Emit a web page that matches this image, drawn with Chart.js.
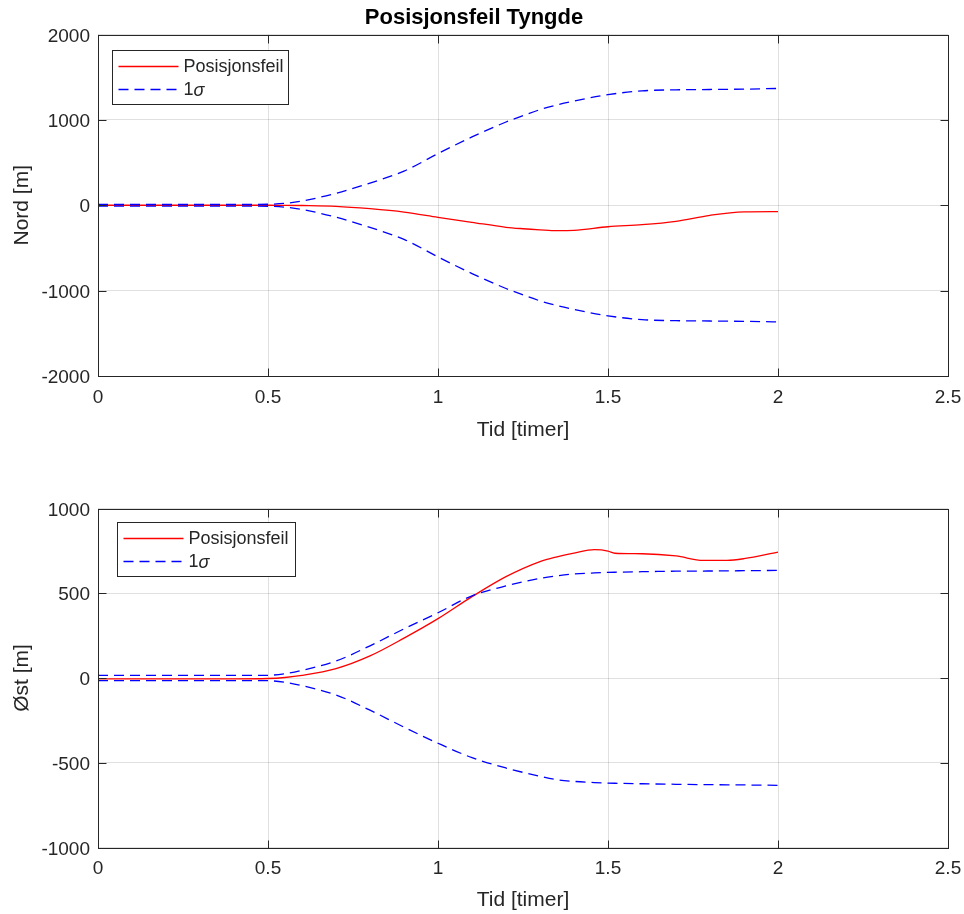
<!DOCTYPE html>
<html>
<head>
<meta charset="utf-8">
<script src="https://cdn.jsdelivr.net/npm/chart.js@4.4.1/dist/chart.umd.min.js"></script>
<style>
  html, body { margin: 0; padding: 0; background: #fff; }
  #wrap { position: relative; width: 964px; height: 914px; }
  .panel { position: absolute; left: 0; width: 964px; }
  #top { top: 0; height: 440px; }
  #bot { top: 470px; height: 444px; }
</style>
</head>
<body>
<div id="wrap">
  <div class="panel" id="top"><canvas id="nordChart"></canvas></div>
  <div class="panel" id="bot"><canvas id="ostChart"></canvas></div>
</div>
<script>
// tick labels
const xTicks = [0, 0.5, 1, 1.5, 2, 2.5];
const nordTicks = [-2000, -1000, 0, 1000, 2000];
const ostTicks = [-1000, -500, 0, 500, 1000];

// Nord (timer / meter)
const tNord = [0, 0.1, 0.2, 0.3, 0.4, 0.5, 0.55, 0.6, 0.7, 0.8, 0.9, 1.0, 1.1, 1.2, 1.25, 1.3, 1.35, 1.4, 1.5, 1.6, 1.7, 1.8, 1.9, 2.0];
const nordErr = [0, 0, 0, 0, 0, 0, -1, -3, -12, -40, -80, -141, -200, -258, -275, -288, -298, -295, -252, -228, -188, -118, -78, -75];
const nordSigmaUp = [10, 10, 10, 10, 10, 12, 22, 50, 140, 260, 400, 605, 800, 975, 1050, 1120, 1175, 1220, 1295, 1340, 1352, 1356, 1360, 1368];
const nordSigmaDown = [-10, -10, -10, -10, -10, -12, -22, -50, -140, -260, -400, -605, -800, -975, -1050, -1120, -1175, -1220, -1295, -1340, -1352, -1356, -1360, -1366];

// Øst
const tOst = [0, 0.1, 0.2, 0.3, 0.4, 0.5, 0.55, 0.6, 0.7, 0.8, 0.9, 1.0, 1.1, 1.2, 1.3, 1.35, 1.4, 1.46, 1.5, 1.52, 1.6, 1.7, 1.78, 1.85, 1.9, 2.0];
const ostErr = [-5, -5, -5, -5, -5, -3, 3, 15, 55, 130, 235, 350, 480, 598, 687, 715, 737, 757, 749, 736, 733, 720, 694, 694, 704, 743];
const ostSigmaUp = [15, 15, 15, 15, 15, 16, 25, 45, 100, 190, 290, 385, 485, 543, 588, 603, 614, 620, 623, 624, 627, 630, 631, 632, 633, 635];
const ostSigmaDown = [-15, -15, -15, -15, -15, -16, -25, -45, -100, -190, -290, -385, -470, -531, -580, -600, -610, -617, -620, -621, -624, -627, -629, -630, -631, -633];

const FONT = "'Liberation Sans', Arial, Helvetica, sans-serif";
const AX = '#262626';
Chart.defaults.font.family = FONT;
Chart.defaults.color = AX;

function pts(t, v) {
  return t.map((x, i) => ({ x: x, y: v[i] }));
}

// box, inward ticks and legend like the original figure
const matlabBox = {
  id: 'matlabBox',
  afterDatasetsDraw(chart, args, opts) {
    const ctx = chart.ctx;
    const a = chart.chartArea;
    const sx = chart.scales.x, sy = chart.scales.y;
    const L = Math.round(a.left) + 0.5, R = Math.round(a.right) + 0.5;
    const T = Math.round(a.top) + 0.5, B = Math.round(a.bottom) + 0.5;
    ctx.save();
    ctx.strokeStyle = AX;
    ctx.lineWidth = 1;
    ctx.setLineDash([]);
    ctx.beginPath();
    sx.ticks.forEach(t => {
      const p = Math.round(sx.getPixelForValue(t.value)) + 0.5;
      ctx.moveTo(p, B); ctx.lineTo(p, B - 8);
      ctx.moveTo(p, T); ctx.lineTo(p, T + 8);
    });
    sy.ticks.forEach(t => {
      const p = Math.round(sy.getPixelForValue(t.value)) + 0.5;
      ctx.moveTo(L, p); ctx.lineTo(L + 8, p);
      ctx.moveTo(R, p); ctx.lineTo(R - 8, p);
    });
    ctx.stroke();
    ctx.strokeRect(L, T, R - L, B - T);

    // legend
    const lg = opts.legend;
    const x0 = Math.round(a.left + lg.dx) + 0.5;
    const y0 = Math.round(a.top + lg.dy) + 0.5;
    ctx.fillStyle = '#fff';
    ctx.fillRect(x0, y0, lg.w, lg.h);
    ctx.strokeStyle = AX;
    ctx.strokeRect(x0, y0, lg.w, lg.h);
    const items = chart.data.datasets.filter(d => d.label);
    items.forEach((d, i) => {
      const y = y0 + 16 + i * 23;
      ctx.strokeStyle = d.borderColor;
      ctx.lineWidth = d.borderWidth;
      ctx.setLineDash(d.borderDash || []);
      ctx.beginPath();
      ctx.moveTo(x0 + 6, y);
      ctx.lineTo(x0 + 66, y);
      ctx.stroke();
      ctx.setLineDash([]);
      ctx.fillStyle = AX;
      ctx.textBaseline = 'middle';
      ctx.textAlign = 'left';
      let tx = x0 + 71;
      if (d.label.includes('σ')) {
        const parts = d.label.split('σ');
        ctx.font = '18px ' + FONT;
        ctx.fillText(parts[0], tx, y + 1);
        tx += ctx.measureText(parts[0]).width;
        ctx.font = 'italic 18px ' + FONT;
        ctx.fillText('σ', tx, y + 1);
      } else {
        ctx.font = '18px ' + FONT;
        ctx.fillText(d.label, tx, y + 1);
      }
    });
    ctx.restore();
  }
};

function makeChart(id, cfg) {
  const datasets = [
    {
      label: 'Posisjonsfeil',
      data: pts(cfg.t, cfg.err),
      borderColor: '#ff0000',
      borderWidth: 1.3,
      order: 2
    },
    {
      label: '1σ',
      data: pts(cfg.t, cfg.up),
      borderColor: '#0000ff',
      borderWidth: 1.3,
      borderDash: [10, 6],
      order: 1
    },
    {
      label: '',
      data: pts(cfg.t, cfg.down),
      borderColor: '#0000ff',
      borderWidth: 1.3,
      borderDash: [10, 6],
      order: 1
    }
  ];
  datasets.forEach(d => {
    d.pointRadius = 0;
    d.fill = false;
    d.cubicInterpolationMode = 'monotone';
  });

  return new Chart(document.getElementById(id), {
    type: 'line',
    data: { datasets: datasets },
    plugins: [matlabBox],
    options: {
      responsive: true,
      maintainAspectRatio: false,
      animation: false,
      layout: { padding: { top: cfg.padTop, right: 16, left: 0, bottom: 0 } },
      plugins: {
        legend: { display: false },
        tooltip: { enabled: false },
        title: {
          display: !!cfg.title,
          text: cfg.title,
          color: '#000',
          font: { size: 22, weight: 'bold', lineHeight: 1.2 },
          padding: { top: 5, bottom: 3.1 }
        },
        matlabBox: { legend: cfg.legend }
      },
      scales: {
        x: {
          type: 'linear',
          min: 0,
          max: 2.5,
          afterBuildTicks: s => { s.ticks = xTicks.map(v => ({ value: v })); },
          afterFit: s => { s.height = cfg.xHeight; s.paddingLeft = 0; s.paddingRight = 0; },
          ticks: {
            callback: v => String(v),
            color: AX,
            font: { size: 19 },
            padding: 10,
            maxRotation: 0,
            autoSkip: false
          },
          grid: { color: 'rgba(0,0,0,0.12)', drawTicks: false },
          border: { display: false },
          title: {
            display: true,
            text: 'Tid [timer]',
            color: AX,
            font: { size: 21, lineHeight: 1.2 },
            padding: { top: 0, bottom: cfg.xTitlePad }
          }
        },
        y: {
          type: 'linear',
          min: cfg.yTicks[0],
          max: cfg.yTicks[cfg.yTicks.length - 1],
          afterBuildTicks: s => { s.ticks = cfg.yTicks.map(v => ({ value: v })); },
          afterFit: s => { s.width = 98; s.paddingTop = 0; s.paddingBottom = 0; },
          ticks: {
            callback: v => String(v),
            color: AX,
            font: { size: 19 },
            padding: 8,
            labelOffset: 2
          },
          grid: { color: 'rgba(0,0,0,0.12)', drawTicks: false },
          border: { display: false },
          title: {
            display: true,
            text: cfg.yTitle,
            color: AX,
            font: { size: 21, lineHeight: 1.2 },
            padding: { top: 10, bottom: 0 }
          }
        }
      }
    }
  });
}

makeChart('nordChart', {
  t: tNord, err: nordErr, up: nordSigmaUp, down: nordSigmaDown,
  yTicks: nordTicks, yTitle: 'Nord [m]', title: 'Posisjonsfeil Tyngde',
  padTop: 0, xHeight: 64, xTitlePad: -3,
  legend: { dx: 14, dy: 15.5, w: 176, h: 54 }
});

makeChart('ostChart', {
  t: tOst, err: ostErr, up: ostSigmaUp, down: ostSigmaDown,
  yTicks: ostTicks, yTitle: 'Øst [m]', title: '',
  padTop: 38.5, xHeight: 66.5, xTitlePad: 1,
  legend: { dx: 19, dy: 13.5, w: 178, h: 54 }
});
</script>
</body>
</html>
